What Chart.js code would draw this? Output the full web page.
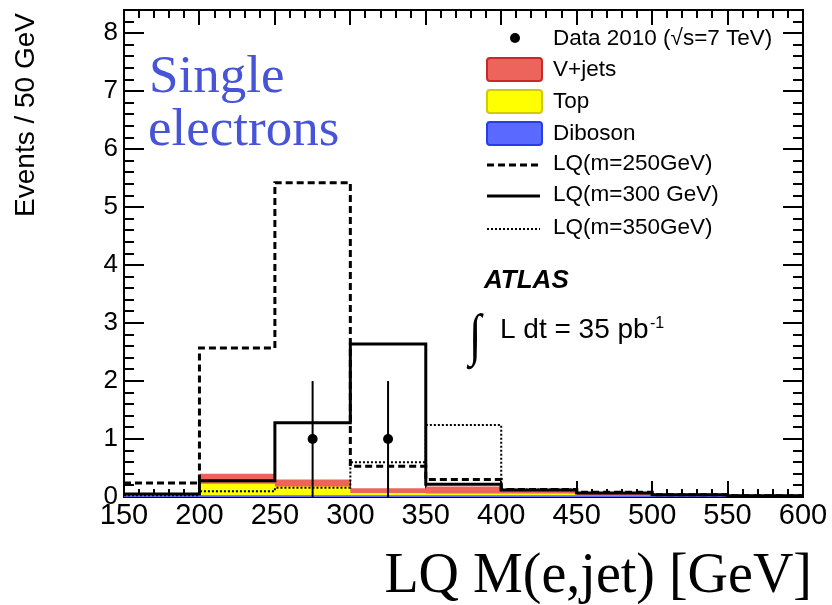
<!DOCTYPE html>
<html>
<head>
<meta charset="utf-8">
<script src="https://cdn.jsdelivr.net/npm/chart.js@4.4.0/dist/chart.umd.min.js"></script>
<style>
  body { margin: 0; background: #fff; }
</style>
</head>
<body>
<canvas id="lqChart" width="832" height="605"></canvas>
<script>
// bin edges in GeV, 50 GeV wide bins
const binEdges = [150, 200, 250, 300, 350, 400, 450, 500, 550, 600];

// backgrounds, events per bin
const diboson = [0.03, 0.03, 0.03, 0.03, 0.03, 0.03, 0.03, 0.03, 0.03];
const topQuark = [0.02, 0.2, 0.15, 0.04, 0.03, 0.03, 0.005, 0.002, 0.001];
const vjets = [0.02, 0.17, 0.12, 0.08, 0.12, 0.08, 0.015, 0.005, 0.002];

// signal LQ samples
const lq250 = [0.24, 2.57, 5.42, 0.53, 0.30, 0.13, 0.08, 0.04, 0.02];
const lq300 = [0.05, 0.28, 1.28, 2.64, 0.22, 0.12, 0.07, 0.04, 0.02];
const lq350 = [0.03, 0.10, 0.16, 0.60, 1.24, 0.13, 0.07, 0.04, 0.02];

// data 2010
const dataX = [275, 325];
const dataY = [1, 1];
const dataErrLow = [1, 1];
const dataErrHigh = [1, 1];

const xTicks = [150, 200, 250, 300, 350, 400, 450, 500, 550, 600];
const yTicks = [0, 1, 2, 3, 4, 5, 6, 7, 8];

const SANS = '"Liberation Sans", Arial, Helvetica, sans-serif';
const SERIF = '"Liberation Serif", "Times New Roman", serif';

function steps(vals) {
  return binEdges.map((e, i) => ({ x: e, y: vals[Math.min(i, vals.length - 1)] }));
}
function addUp(a, b) {
  return a.map((v, i) => v + b[i]);
}

const stackDib = diboson;
const stackTop = addUp(stackDib, topQuark);
const stackVjets = addUp(stackTop, vjets);

function histLine(label, vals, dash, width) {
  return {
    label: label,
    data: steps(vals),
    stepped: 'before',
    borderColor: '#000',
    borderWidth: width,
    borderDash: dash,
    pointRadius: 0,
    fill: false
  };
}
function histFill(label, vals, color) {
  return {
    label: label,
    data: steps(vals),
    stepped: 'before',
    borderColor: 'rgba(0,0,0,0)',
    borderWidth: 0,
    backgroundColor: color,
    pointRadius: 0,
    fill: 'origin'
  };
}

// error bars on data points
const errorBars = {
  id: 'errorBars',
  afterDatasetsDraw(chart) {
    const { ctx, scales: { x, y } } = chart;
    ctx.save();
    ctx.strokeStyle = '#000';
    ctx.lineWidth = 2;
    dataX.forEach((v, i) => {
      const px = x.getPixelForValue(v);
      ctx.beginPath();
      ctx.moveTo(px, y.getPixelForValue(dataY[i] - dataErrLow[i]));
      ctx.lineTo(px, y.getPixelForValue(dataY[i] + dataErrHigh[i]));
      ctx.stroke();
    });
    ctx.restore();
  }
};

// ROOT style frame with inward ticks on all sides, drawn under the histograms
const frame = {
  id: 'frame',
  beforeDatasetsDraw(chart) {
    const { ctx, chartArea: a, scales: { x, y } } = chart;
    ctx.save();
    ctx.strokeStyle = '#000';
    ctx.lineWidth = 2;
    ctx.strokeRect(a.left, a.top, a.right - a.left, a.bottom - a.top);
    ctx.beginPath();
    for (let v = x.min; v <= x.max + 0.001; v += 10) {
      const px = Math.round(x.getPixelForValue(v));
      const major = Math.abs(v % 50) < 0.001;
      ctx.moveTo(px, a.bottom);
      ctx.lineTo(px, a.bottom - (major ? 16 : 8));
      ctx.moveTo(px, a.top);
      ctx.lineTo(px, a.top + (major ? 15 : 8));
    }
    for (let k = 0; k * 0.2 <= y.max + 0.001; k++) {
      const py = Math.round(y.getPixelForValue(k * 0.2));
      const major = k % 5 === 0;
      ctx.moveTo(a.left, py);
      ctx.lineTo(a.left + (major ? 20 : 10), py);
      ctx.moveTo(a.right, py);
      ctx.lineTo(a.right - (major ? 20 : 10), py);
    }
    ctx.stroke();
    ctx.restore();
  }
};

// titles, labels and legend
const annotations = {
  id: 'annotations',
  afterDraw(chart) {
    const ctx = chart.ctx;
    ctx.save();
    ctx.fillStyle = '#000';

    // axis titles
    ctx.font = '56px ' + SERIF;
    ctx.textAlign = 'right';
    ctx.textBaseline = 'alphabetic';
    ctx.fillText('LQ M(e,jet) [GeV]', 812, 592);

    ctx.save();
    ctx.translate(34, 13);
    ctx.rotate(-Math.PI / 2);
    ctx.font = '28px ' + SANS;
    ctx.textAlign = 'right';
    ctx.fillText('Events / 50 GeV', 0, 0);
    ctx.restore();

    // channel label
    ctx.fillStyle = 'rgb(72,84,216)';
    ctx.textAlign = 'left';
    ctx.font = '53px ' + SERIF;
    ctx.fillText('Single', 149, 92);
    ctx.fillText('electrons', 148, 145);

    // ATLAS and luminosity
    ctx.fillStyle = '#000';
    ctx.font = 'italic bold 26px ' + SANS;
    ctx.fillText('ATLAS', 484, 288);
    ctx.font = '28px ' + SANS;
    ctx.fillText('L dt = 35 pb', 500, 338);
    ctx.font = '16px ' + SANS;
    ctx.fillText('-1', 650, 328);
    ctx.save();
    ctx.translate(469, 354);
    ctx.scale(1.25, 1.6);
    ctx.font = '36px ' + SERIF;
    ctx.fillText('\u222B', 0, 0);
    ctx.restore();

    // legend
    const tx = 553;
    ctx.font = '22.5px ' + SANS;
    ctx.textBaseline = 'middle';
    ctx.beginPath();
    ctx.arc(515, 38, 5, 0, Math.PI * 2);
    ctx.fill();
    ctx.fillText('Data 2010 (\u221As=7 TeV)', tx, 39);

    const boxes = [
      ['V+jets', 'rgb(236,100,92)', 'rgb(200,40,40)', 58],
      ['Top', 'rgb(255,255,0)', 'rgb(205,205,0)', 90],
      ['Diboson', 'rgb(90,105,255)', 'rgb(40,60,235)', 122]
    ];
    boxes.forEach(b => {
      ctx.fillStyle = b[1];
      ctx.strokeStyle = b[2];
      ctx.lineWidth = 2;
      ctx.beginPath();
      ctx.roundRect(487, b[3], 55, 23, 3);
      ctx.fill();
      ctx.stroke();
      ctx.fillStyle = '#000';
      ctx.fillText(b[0], tx, b[3] + 12);
    });

    const lines = [
      ['LQ(m=250GeV)', [7, 4], 3, 165],
      ['LQ(m=300 GeV)', [], 3, 196],
      ['LQ(m=350GeV)', [2, 2], 2, 229]
    ];
    ctx.strokeStyle = '#000';
    lines.forEach(l => {
      ctx.setLineDash(l[1]);
      ctx.lineWidth = l[2];
      ctx.beginPath();
      ctx.moveTo(487, l[3]);
      ctx.lineTo(540, l[3]);
      ctx.stroke();
      ctx.setLineDash([]);
      ctx.fillText(l[0], tx, l[3] - 1);
    });
    ctx.restore();
  }
};

new Chart(document.getElementById('lqChart'), {
  type: 'line',
  data: {
    datasets: [
      {
        label: 'Data 2010',
        data: dataX.map((v, i) => ({ x: v, y: dataY[i] })),
        showLine: false,
        pointRadius: 5,
        pointBackgroundColor: '#000',
        pointBorderColor: '#000',
        pointBorderWidth: 0
      },
      histLine('LQ(m=250GeV)', lq250, [7, 4], 3),
      histLine('LQ(m=300 GeV)', lq300, [], 3),
      histLine('LQ(m=350GeV)', lq350, [2, 2], 2),
      histFill('Diboson', stackDib, 'rgb(90,105,255)'),
      histFill('Top', stackTop, 'rgb(255,255,0)'),
      histFill('V+jets', stackVjets, 'rgb(236,100,92)')
    ]
  },
  options: {
    responsive: false,
    animation: false,
    devicePixelRatio: 1,
    layout: { padding: { top: 10, right: 29, left: 0, bottom: 0 } },
    plugins: {
      legend: { display: false },
      tooltip: { enabled: false }
    },
    scales: {
      x: {
        type: 'linear',
        min: 150,
        max: 600,
        grid: { display: false, drawTicks: false },
        border: { display: false },
        afterBuildTicks: s => { s.ticks = xTicks.map(v => ({ value: v })); },
        afterFit: s => { s.height = 108; },
        ticks: {
          padding: 4,
          color: '#000',
          autoSkip: false,
          maxRotation: 0,
          font: { family: SANS, size: 29, lineHeight: 1 }
        }
      },
      y: {
        min: 0,
        max: 8.4,
        grid: { display: false, drawTicks: false },
        border: { display: false },
        afterBuildTicks: s => { s.ticks = yTicks.map(v => ({ value: v })); },
        afterFit: s => { s.width = 124; },
        ticks: {
          padding: 6,
          color: '#000',
          font: { family: SANS, size: 26, lineHeight: 0.2 }
        }
      }
    }
  },
  plugins: [errorBars, frame, annotations]
});
</script>
</body>
</html>
